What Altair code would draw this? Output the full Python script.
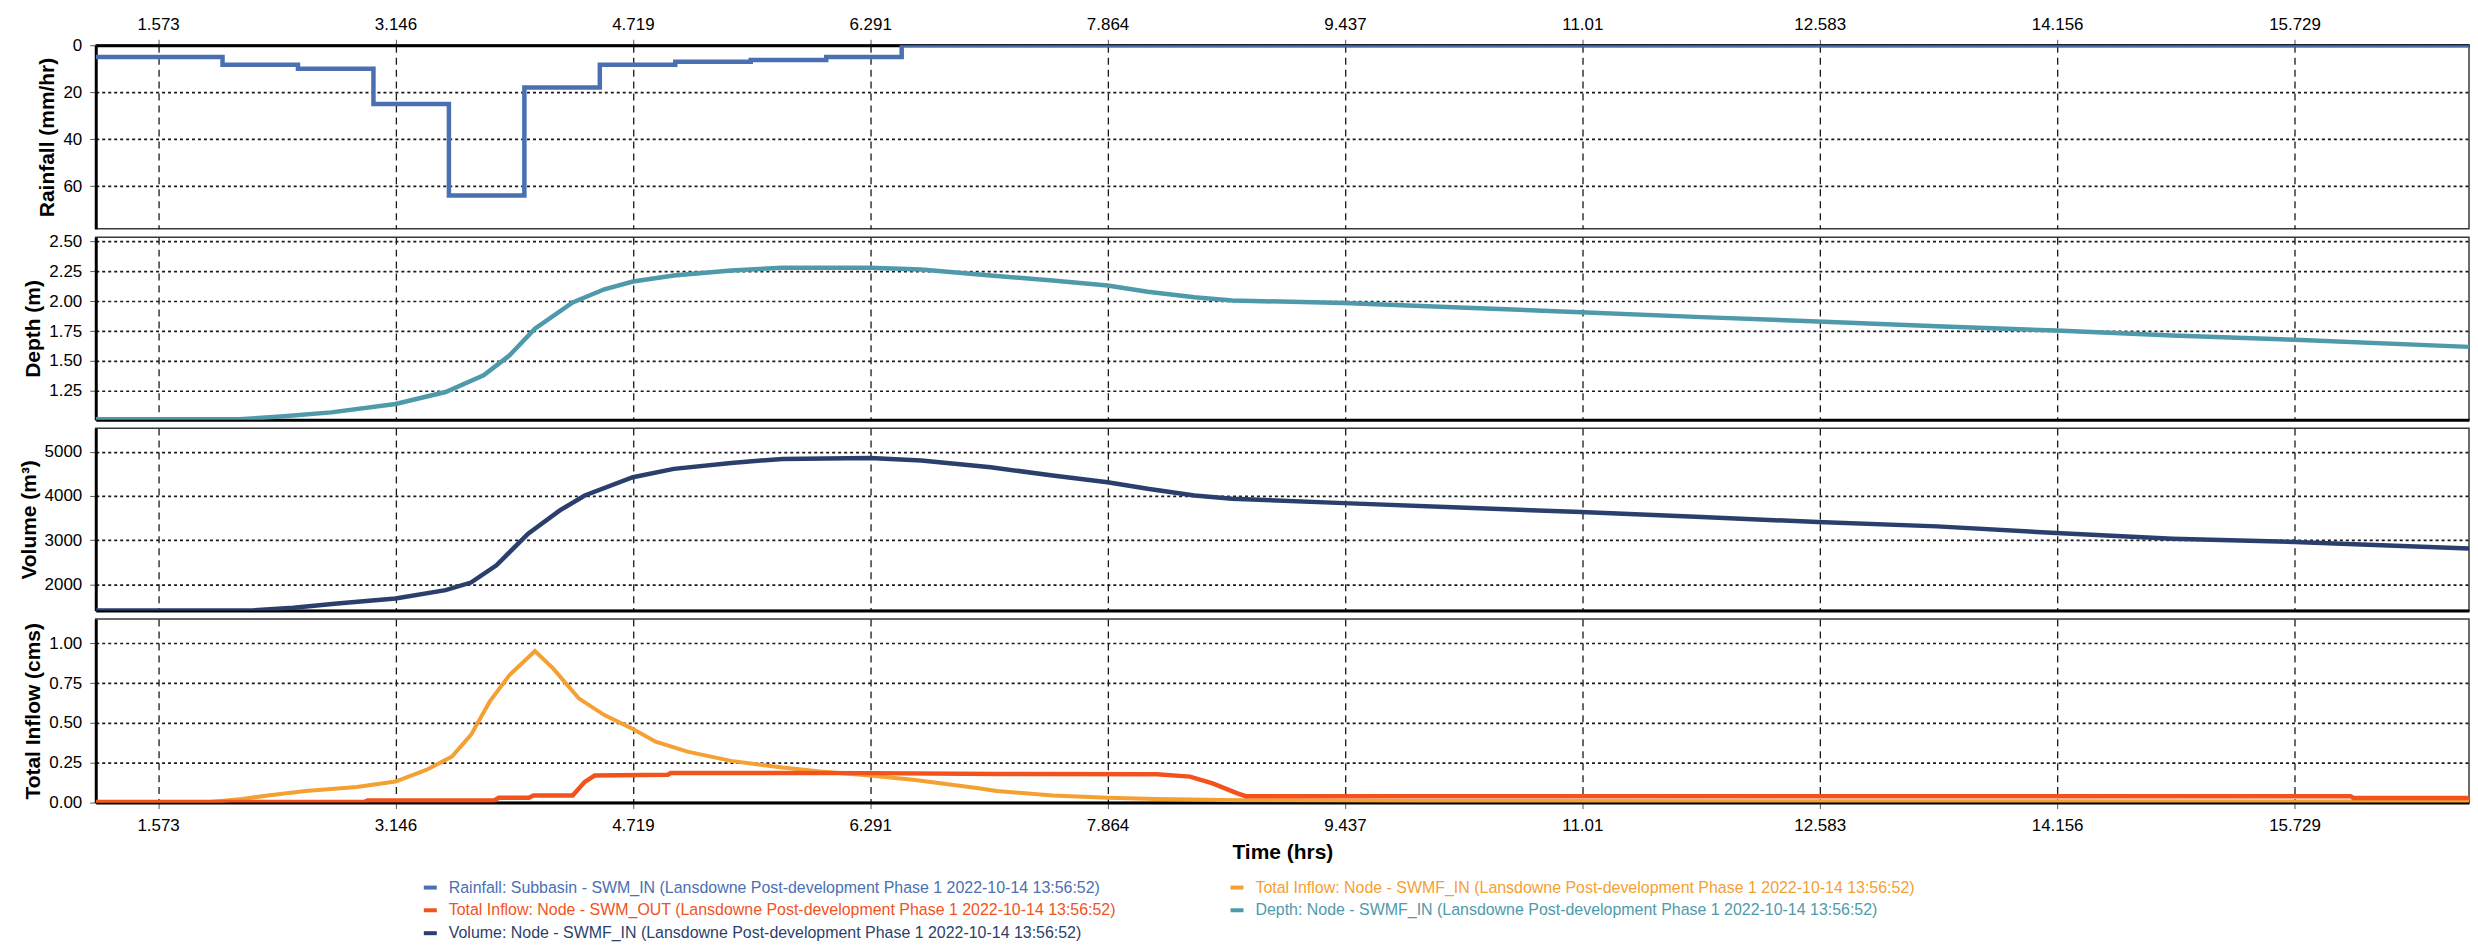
import altair as alt
import pandas as pd

FONT = "Liberation Sans"

# ---- time axis ----
X_MIN, X_MAX = 1.16, 16.885
X_TICKS = [1.573, 3.146, 4.719, 6.291, 7.864, 9.437, 11.01, 12.583, 14.156, 15.729]

# ---- series names / colours (legend order: column-major, 3 rows) ----
SUFFIX = " (Lansdowne Post-development Phase 1 2022-10-14 13:56:52)"
S_RAIN = "Rainfall: Subbasin - SWM_IN" + SUFFIX
S_IN = "Total Inflow: Node - SWMF_IN" + SUFFIX
S_OUT = "Total Inflow: Node - SWM_OUT" + SUFFIX
S_DEPTH = "Depth: Node - SWMF_IN" + SUFFIX
S_VOL = "Volume: Node - SWMF_IN" + SUFFIX
series_names = [S_RAIN, S_OUT, S_VOL, S_IN, S_DEPTH]
series_colors = ["#4a70b2", "#f2531c", "#2b3f6d", "#f5a033", "#4e9aab"]

# ---- rainfall (mm/hr), step-after ----
rain_t = [1.16, 2.0, 2.5, 3.0, 3.5, 4.0, 4.5, 5.0, 5.5, 6.0, 6.5, 16.885]
rain_v = [5.0, 8.3, 10.0, 25.0, 64.0, 18.0, 8.3, 7.0, 6.3, 5.0, 0.0, 0.0]

# ---- depth (m) ----
depth_t = [1.16, 2.11, 2.385, 2.72, 3.146, 3.478, 3.73, 3.90, 4.07, 4.32, 4.53, 4.719,
           4.99, 5.37, 5.71, 6.29, 6.63, 7.09, 7.50, 7.864, 8.13, 8.44, 8.69, 9.43,
           10.24, 11.0, 11.8, 12.57, 13.36, 14.15, 14.92, 15.73, 16.885]
depth_v = [1.012, 1.012, 1.035, 1.07, 1.14, 1.24, 1.38, 1.545, 1.77, 1.99, 2.10, 2.165,
           2.215, 2.257, 2.28, 2.28, 2.266, 2.215, 2.174, 2.132, 2.08, 2.034, 2.006, 1.985,
           1.945, 1.908, 1.867, 1.83, 1.79, 1.755, 1.713, 1.677, 1.618]

# ---- volume (m3) ----
vol_t = [1.16, 2.195, 2.47, 2.76, 3.146, 3.478, 3.646, 3.815, 4.025, 4.235, 4.40, 4.719,
         4.99, 5.37, 5.71, 6.29, 6.63, 7.09, 7.50, 7.864, 8.13, 8.44, 8.69, 9.43,
         10.24, 11.0, 11.8, 12.57, 13.36, 14.15, 14.92, 15.73, 16.885]
vol_v = [1414, 1414, 1474, 1572, 1684, 1872, 2044, 2434, 3147, 3672, 4010, 4422,
         4610, 4745, 4835, 4857, 4797, 4647, 4460, 4310, 4160, 4010, 3935, 3837,
         3732, 3635, 3522, 3410, 3312, 3162, 3035, 2960, 2810]

# ---- total inflow SWMF_IN (cms) ----
qin_t = [1.16, 1.88, 2.13, 2.30, 2.55, 2.89, 3.146, 3.35, 3.52, 3.646, 3.77, 3.90, 4.07,
         4.19, 4.36, 4.53, 4.719, 4.87, 5.08, 5.37, 5.71, 5.96, 6.29, 6.59, 7.01, 7.13,
         7.50, 7.864, 8.19, 8.75, 9.93, 16.885]
qin_v = [0.0, 0.0, 0.023, 0.044, 0.073, 0.098, 0.132, 0.205, 0.289, 0.425, 0.634, 0.80, 0.952,
         0.843, 0.655, 0.55, 0.462, 0.383, 0.32, 0.262, 0.22, 0.195, 0.17, 0.142, 0.09, 0.073,
         0.044, 0.031, 0.023, 0.015, 0.01, 0.006]

# ---- total inflow SWM_OUT (cms) ----
qout_t = [1.16, 2.94, 2.96, 3.80, 3.83, 4.03, 4.06, 4.32, 4.40, 4.466, 4.95, 4.97,
          6.29, 7.13, 8.19, 8.41, 8.56, 8.72, 8.78, 16.10, 16.12, 16.885]
qout_v = [0.004, 0.004, 0.013, 0.013, 0.03, 0.03, 0.044, 0.044, 0.13, 0.17, 0.175, 0.186,
          0.185, 0.18, 0.178, 0.163, 0.121, 0.059, 0.04, 0.04, 0.028, 0.028]


def frame(ts, vs, name):
    return pd.DataFrame({"t": ts, "v": vs, "series": [name] * len(ts)})


legend = alt.Legend(
    title=None, orient="none", legendX=327, legendY=836, columns=2,
    columnPadding=106, rowPadding=6, labelFont=FONT, labelFontSize=16,
    labelLimit=2000, symbolType="stroke", symbolSize=169, symbolStrokeWidth=4,
    labelOffset=10, padding=0,
    labelColor=alt.ExprRef("scale('color', datum.value)"),
)
color_enc = alt.Color("series:N", scale=alt.Scale(domain=series_names, range=series_colors),
                      legend=legend)

x_scale = alt.Scale(domain=[X_MIN, X_MAX], nice=False, zero=False)
GRID_X = dict(grid=True, gridColor="#1a1a1a", gridDash=[7, 5], gridWidth=1.3)
GRID_Y = dict(grid=True, gridColor="#1a1a1a", gridDash=[3, 3], gridWidth=1.7)

ax_top = alt.Axis(orient="top", values=X_TICKS, labelExpr="toString(datum.value)",
                  title=None, tickSize=6, labelPadding=6, domainWidth=3, **GRID_X)
ax_mid = alt.Axis(orient="bottom", values=X_TICKS, labels=False, ticks=False,
                  title=None, domainWidth=3, **GRID_X)
ax_bot = alt.Axis(orient="bottom", values=X_TICKS, labelExpr="toString(datum.value)",
                  title="Time (hrs)", tickSize=6, labelPadding=9, titlePadding=8,
                  domainWidth=3, **GRID_X)


def yaxis(title, values, fmt):
    return alt.Axis(title=title, values=values, format=fmt, tickSize=6, labelPadding=8,
                    titlePadding=5, domainWidth=3, **GRID_Y)


W = 2380

rain = alt.Chart(frame(rain_t, rain_v, S_RAIN)).mark_line(
    interpolate="step-after", strokeWidth=4.5, clip=True).encode(
    x=alt.X("t:Q", scale=x_scale, axis=ax_top),
    y=alt.Y("v:Q", scale=alt.Scale(domain=[0, 78.1], reverse=True, nice=False, zero=False),
            axis=yaxis("Rainfall (mm/hr)", [0, 20, 40, 60], "d")),
    color=color_enc,
).properties(width=W, height=184)

depth = alt.Chart(frame(depth_t, depth_v, S_DEPTH)).mark_line(strokeWidth=4.5, clip=True).encode(
    x=alt.X("t:Q", scale=x_scale, axis=ax_mid),
    y=alt.Y("v:Q", scale=alt.Scale(domain=[1.009, 2.536], nice=False, zero=False),
            axis=yaxis("Depth (m)", [1.25, 1.5, 1.75, 2.0, 2.25, 2.5], ".2f")),
    color=color_enc,
).properties(width=W, height=183)

vol = alt.Chart(frame(vol_t, vol_v, S_VOL)).mark_line(strokeWidth=4.5, clip=True).encode(
    x=alt.X("t:Q", scale=x_scale, axis=ax_mid),
    y=alt.Y("v:Q", scale=alt.Scale(domain=[1410, 5530], nice=False, zero=False),
            axis=yaxis("Volume (m³)", [2000, 3000, 4000, 5000], "d")),
    color=color_enc,
).properties(width=W, height=183)

y_q = alt.Y("v:Q", scale=alt.Scale(domain=[0, 1.153], nice=False, zero=False),
            axis=yaxis("Total Inflow (cms)", [0, 0.25, 0.5, 0.75, 1.0], ".2f"))
q_in = alt.Chart(frame(qin_t, qin_v, S_IN)).mark_line(strokeWidth=4, clip=True).encode(
    x=alt.X("t:Q", scale=x_scale, axis=ax_bot), y=y_q, color=color_enc)
q_out = alt.Chart(frame(qout_t, qout_v, S_OUT)).mark_line(strokeWidth=4.5, clip=True).encode(
    x=alt.X("t:Q", scale=x_scale, axis=ax_bot), y=y_q, color=color_enc)
flow = alt.layer(q_in, q_out).properties(width=W, height=184)

chart = alt.vconcat(rain, depth, vol, flow, spacing=8.5, bounds="flush").resolve_scale(
    color="shared", x="independent", y="independent"
).properties(
    padding={"left": 9, "top": 5, "right": 0, "bottom": 0},
    background="white",
).configure_view(
    stroke="#3a3a3a", strokeWidth=1.5
).configure_axis(
    labelFont=FONT, labelFontSize=17, labelColor="#000",
    titleFont=FONT, titleFontSize=21, titleFontWeight="bold", titleColor="#000",
    domainColor="#000", tickColor="#555",
)

chart.save("out.html", embed_options={"renderer": "svg", "actions": False})
